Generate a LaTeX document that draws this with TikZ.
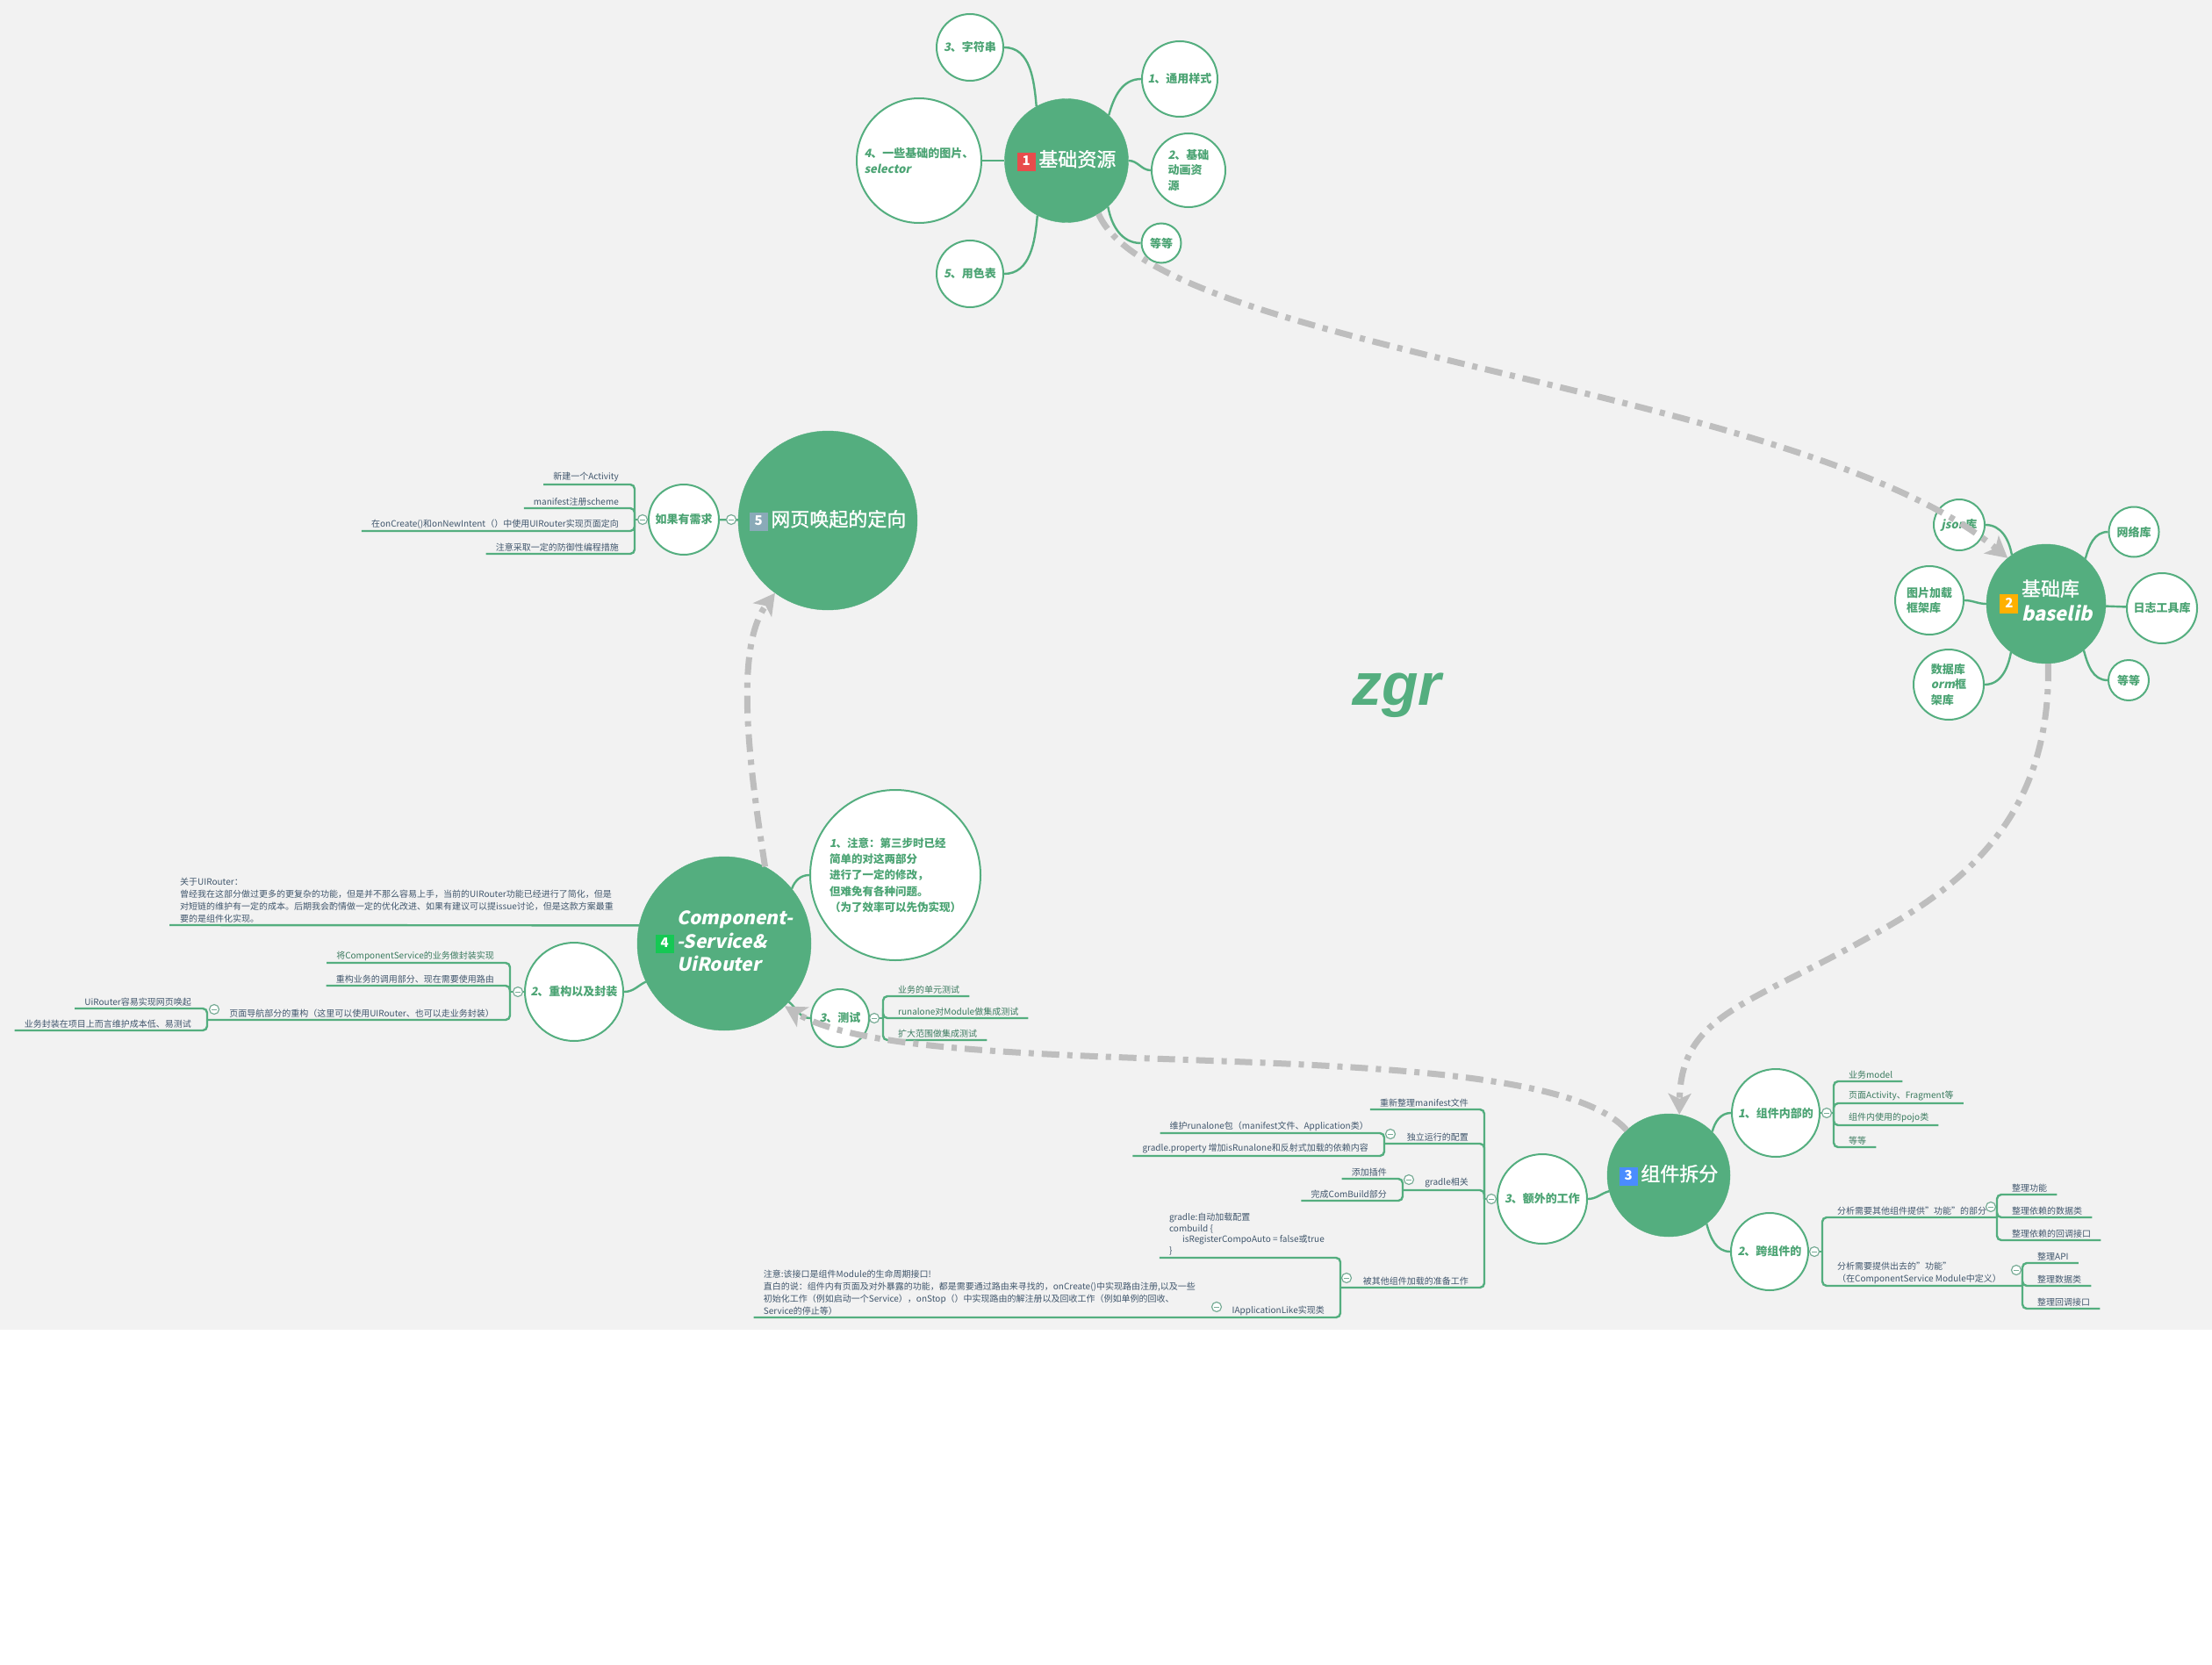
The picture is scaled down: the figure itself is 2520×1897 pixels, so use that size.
\documentclass[tikz,border=0pt]{standalone}
\usepackage{fontspec}
\setmainfont{Noto Sans CJK SC}
\newfontfamily\slantfont{Noto Sans CJK SC}[FakeSlant=0.2]
\newfontfamily\titlefont{Noto Sans CJK SC}[FakeBold=1.2]
\newfontfamily\zgrfont{Liberation Sans}
\usetikzlibrary{arrows.meta}
\definecolor{mmgreen}{RGB}{84,174,127}
\definecolor{subgreen}{RGB}{76,164,116}
\definecolor{slate}{RGB}{64,86,108}
\definecolor{leafgreen}{RGB}{58,122,94}
\definecolor{bggray}{RGB}{242,242,242}
\definecolor{relgray}{RGB}{190,190,190}
\definecolor{foldcol}{RGB}{120,172,150}
\definecolor{tagred}{RGB}{232,76,76}
\definecolor{tagorange}{RGB}{255,176,0}
\definecolor{tagblue}{RGB}{74,140,255}
\definecolor{taggreen}{RGB}{22,200,84}
\definecolor{taggray}{RGB}{138,170,184}
\newcommand{\leaffont}{\fontsize{10}{14}\selectfont}
\newcommand{\subfont}{\fontsize{13}{17.5}\selectfont\bfseries}
\newcommand{\topicfont}{\titlefont\fontsize{22}{27}\selectfont}
\newcommand{\numtag}[2]{$\vcenter{\hbox{\setlength{\fboxsep}{4pt}\colorbox{#1}{\makebox[13pt]{\normalfont\fontsize{15}{15}\selectfont\bfseries\color{white}\rule[-2pt]{0pt}{13pt}#2}}}}$}

\begin{document}
\begin{tikzpicture}[x=1pt, y=-1pt,
  topic/.style={circle, fill=mmgreen, draw=mmgreen, minimum size=#1, inner sep=0pt, text=white, font=\topicfont},
  subtopic/.style={circle, fill=white, draw=mmgreen, line width=2pt, minimum size=#1, inner sep=0pt, text=subgreen, font=\subfont, align=left},
  branchline/.style={draw=mmgreen, line width=2.4pt, rounded corners=5pt},
  lleaf/.style={anchor=south east, inner xsep=11pt, inner ysep=2.5pt, font=\leaffont, text=slate, align=left},
  rleaf/.style={anchor=south west, inner xsep=11pt, inner ysep=2.5pt, font=\leaffont, text=slate, align=left},
  foldmark/.style={circle, draw=foldcol, fill=white, line width=1.2pt, minimum size=11pt, inner sep=0pt,
    path picture={\draw[foldcol, line width=1pt] ([xshift=-2.6pt]path picture bounding box.center) -- ([xshift=2.6pt]path picture bounding box.center);}},
  relation/.style={draw=relgray, line width=7pt, dash pattern=on 20pt off 9pt on 6pt off 9pt, -{Stealth[length=24pt,width=26pt,inset=6pt]}}
]
\fill[white] (0,0) rectangle (2520,1897);
\fill[bggray] (0,0) rectangle (2520,1515);
\useasboundingbox (0,0) rectangle (2520,1897);

\node[text=mmgreen, font={\zgrfont\bfseries\itshape\fontsize{68}{68}\selectfont}] (brand) at (1591,792) {zgr};

\node[topic=141pt] (res) at (1215,183) {\numtag{tagred}{1}\,基础资源};
\node[subtopic=76pt] (str) at (1105,54) {{\slantfont 3}、字符串};
\node[subtopic=142pt] (img) at (1047,183) {{\slantfont 4}、一些基础的图片、\\{\slantfont selector}};
\node[subtopic=86pt] (style) at (1344,90) {{\slantfont 1}、通用样式};
\node[subtopic=84pt] (anim) at (1354,194) {{\slantfont 2}、基础\\动画资\\源};
\node[subtopic=45pt] (resetc) at (1323,277) {等等};
\node[subtopic=76pt] (color) at (1105,312) {{\slantfont 5}、用色表};

\node[topic=136pt] (lib) at (2331,688) {\numtag{tagorange}{2}\,\begin{tabular}[c]{@{}l@{}}基础库\\[2pt]{\slantfont\bfseries baselib}\end{tabular}};
\node[subtopic=58pt] (json) at (2232,598) {{\slantfont json}库};
\node[subtopic=57pt] (net) at (2431,606) {网络库};
\node[subtopic=80pt] (log) at (2463,693) {日志工具库};
\node[subtopic=46pt] (libetc) at (2425,775) {等等};
\node[subtopic=78pt] (pic) at (2198,684) {图片加载\\框架库};
\node[subtopic=80pt] (db) at (2220,780) {数据库\\{\slantfont orm}框\\架库};

\node[topic=140pt] (split) at (1901,1339) {\numtag{tagblue}{3}\,组件拆分};
\node[subtopic=100pt] (inner) at (2023,1268) {{\slantfont 1}、组件内部的};
\node[subtopic=88pt] (cross) at (2016,1426) {{\slantfont 2}、跨组件的};
\node[subtopic=102pt] (extra) at (1757,1366) {{\slantfont 3}、额外的工作};

\node[topic=198pt, font={\slantfont\fontsize{21}{26.5}\selectfont\bfseries}] (comp) at (825,1075)
  {\numtag{taggreen}{4}\,\begin{tabular}[c]{@{}l@{}}Component-\\-Service\&\\UiRouter\end{tabular}};
\node[subtopic=194pt, font={\fontsize{12.5}{18.3}\selectfont\bfseries}] (note1) at (1020,997)
  {{\slantfont 1}、注意：第三步时已经\\简单的对这两部分\\进行了一定的修改，\\但难免有各种问题。\\（为了效率可以先伪实现）};
\node[subtopic=112pt] (refac) at (654,1130) {{\slantfont 2}、重构以及封装};
\node[subtopic=66pt] (test) at (957,1160) {{\slantfont 3}、测试};

\node[topic=204pt] (web) at (943,593) {\numtag{taggray}{5}\,网页唤起的定向};
\node[subtopic=80pt] (need) at (779,592) {如果有需求};

\coordinate (needbr) at (723,592);
\coordinate (refacbr) at (581,1130);
\coordinate (navbr) at (236,1162);
\coordinate (testbr) at (1006,1160);
\coordinate (innerbr) at (2089,1268);
\coordinate (crossbr) at (2076,1426);
\coordinate (askbr) at (2275,1387);
\coordinate (offerbr) at (2304,1465);
\coordinate (extrabr) at (1691,1366);
\coordinate (alonebr) at (1577,1303);
\coordinate (gradlebr) at (1598,1356);
\coordinate (loadbr) at (1527,1467);

\node[lleaf] (newact) at (716,552) {新建一个Activity};
\node[lleaf] (scheme) at (716,579) {manifest注册scheme};
\node[lleaf] (redirect) at (716,605) {在onCreate()和onNewIntent（）中使用UIRouter实现页面定向};
\node[lleaf] (defend) at (716,631) {注意采取一定的防御性编程措施};

\node[rleaf, inner xsep=12pt] (uinote) at (193,1054) {关于UIRouter：\\曾经我在这部分做过更多的更复杂的功能，但是并不那么容易上手，当前的UIRouter功能已经进行了简化，但是\\对短链的维护有一定的成本。后期我会酌情做一定的优化改进、如果有建议可以提issue讨论，但是这款方案最重\\要的是组件化实现。};

\node[lleaf, text=leafgreen] (wrap) at (574,1097) {将ComponentService的业务做封装实现};
\node[lleaf] (callpart) at (574,1123) {重构业务的调用部分、现在需要使用路由};
\node[lleaf] (nav) at (574,1162) {页面导航部分的重构（这里可以使用UIRouter、也可以走业务封装）};
\node[lleaf] (easyweb) at (229,1149) {UiRouter容易实现网页唤起};
\node[lleaf] (lowcost) at (229,1174) {业务封装在项目上而言维护成本低、易测试};

\node[rleaf, text=leafgreen] (unit) at (1012,1135) {业务的单元测试};
\node[rleaf, text=leafgreen] (modtest) at (1012,1160) {runalone对Module做集成测试};
\node[rleaf, text=leafgreen] (widetest) at (1012,1185) {扩大范围做集成测试};

\node[rleaf, text=leafgreen] (model) at (2095,1232) {业务model};
\node[rleaf, text=leafgreen] (pages) at (2095,1257) {页面Activity、Fragment等};
\node[rleaf, text=leafgreen] (pojo) at (2095,1282) {组件内使用的pojo类};
\node[rleaf, text=leafgreen] (inetc) at (2095,1307) {等等};

\node[rleaf] (ask) at (2082,1387) {分析需要其他组件提供"功能"的部分};
\node[rleaf] (askfun) at (2281,1361) {整理功能};
\node[rleaf] (askdata) at (2281,1387) {整理依赖的数据类};
\node[rleaf] (askcb) at (2281,1413) {整理依赖的回调接口};
\node[rleaf] (offer) at (2082,1465) {分析需要提供出去的"功能"\\（在ComponentService Module中定义）};
\node[rleaf] (offerapi) at (2310,1439) {整理API};
\node[rleaf] (offerdata) at (2310,1465) {整理数据类};
\node[rleaf] (offercb) at (2310,1491) {整理回调接口};

\node[lleaf] (manifest) at (1684,1264) {重新整理manifest文件};
\node[lleaf] (alone) at (1684,1303) {独立运行的配置};
\node[lleaf] (alonepkg) at (1570,1291) {维护runalone包（manifest文件、Application类）};
\node[lleaf] (aloneprop) at (1570,1317) {gradle.property 增加isRunalone和反射式加载的依赖内容};
\node[lleaf] (gradle) at (1684,1356) {gradle相关};
\node[lleaf] (plugin) at (1591,1343) {添加插件};
\node[lleaf] (combuild) at (1591,1368) {完成ComBuild部分};
\node[lleaf] (load) at (1684,1467) {被其他组件加载的准备工作};
\node[lleaf, font={\fontsize{10}{12.7}\selectfont}] (autocfg) at (1520,1433) {gradle:自动加载配置\\combuild \{\\\hspace*{15pt}isRegisterCompoAuto = false或true\\\}};
\node[lleaf] (applike) at (1520,1501) {IApplicationLike实现类};
\node[lleaf] (lifenote) at (1373,1501) {注意:该接口是组件Module的生命周期接口!\\直白的说：组件内有页面及对外暴露的功能，都是需要通过路由来寻找的，onCreate()中实现路由注册,以及一些\\初始化工作（例如启动一个Service），onStop（）中实现路由的解注册以及回收工作（例如单例的回收、\\Service的停止等）};

\draw[branchline] (str.east) to[out=0, in=95] (res.119);
\draw[branchline] (img) -- (res);
\draw[branchline] (res.47) to[out=75, in=180] (style.west);
\draw[branchline] (res.east) to[out=0, in=180] (anim.west);
\draw[branchline] (res.-48) to[out=-80, in=180] (resetc.west);
\draw[branchline] (res.-118) to[out=-95, in=0] (color.east);

\draw[branchline] (json.east) to[out=0, in=100] (lib.125);
\draw[branchline] (lib.49) to[out=75, in=180] (net.west);
\draw[branchline] (lib) -- (log);
\draw[branchline] (pic.east) to[out=0, in=180] (lib.west);
\draw[branchline] (lib.-51) to[out=-75, in=180] (libetc.west);
\draw[branchline] (db.east) to[out=0, in=-100] (lib.-126);

\draw[branchline] (split.45) to[out=75, in=180] (inner.west);
\draw[branchline] (split.-52) to[out=-75, in=180] (cross.west);
\draw[branchline] (split.195) to[out=195, in=0] (extra.east);

\draw[branchline] (comp.39) to[out=70, in=180] (note1.west);
\draw[branchline] (comp.206) to[out=206, in=0] (refac.east);
\draw[branchline] (comp.-42) to[out=-40, in=180] (test.west);
\draw[branchline] (uinote.south west) -- (comp.168);

\draw[branchline] (need) -- (web);
\draw[branchline] (needbr) -- (need);
\foreach \leaf in {newact,scheme,redirect,defend}
  \draw[branchline] (needbr) |- (\leaf.south west);

\draw[branchline] (refacbr) -- (refac);
\foreach \leaf in {wrap,callpart}
  \draw[branchline] (refacbr) |- (\leaf.south west);
\draw[branchline] (refacbr) |- (navbr);
\foreach \leaf in {easyweb,lowcost}
  \draw[branchline] (navbr) |- (\leaf.south west);

\draw[branchline] (test) -- (testbr);
\foreach \leaf in {unit,modtest,widetest}
  \draw[branchline] (testbr) |- (\leaf.south east);

\draw[branchline] (inner) -- (innerbr);
\foreach \leaf in {model,pages,pojo,inetc}
  \draw[branchline] (innerbr) |- (\leaf.south east);

\draw[branchline] (cross) -- (crossbr);
\draw[branchline] (crossbr) |- (askbr);
\draw[branchline] (crossbr) |- (offerbr);
\foreach \leaf in {askfun,askdata,askcb}
  \draw[branchline] (askbr) |- (\leaf.south east);
\foreach \leaf in {offerapi,offerdata,offercb}
  \draw[branchline] (offerbr) |- (\leaf.south east);

\draw[branchline] (extrabr) -- (extra);
\draw[branchline] (extrabr) |- (manifest.south west);
\draw[branchline] (extrabr) |- (alonebr);
\draw[branchline] (extrabr) |- (gradlebr);
\draw[branchline] (extrabr) |- (loadbr);
\foreach \leaf in {alonepkg,aloneprop}
  \draw[branchline] (alonebr) |- (\leaf.south west);
\foreach \leaf in {plugin,combuild}
  \draw[branchline] (gradlebr) |- (\leaf.south west);
\draw[branchline] (loadbr) |- (autocfg.south west);
\draw[branchline] (loadbr) |- (lifenote.south west);

\node[foldmark] (webfold) at (833,592) {};
\node[foldmark] (needfold) at (732,592) {};
\node[foldmark] (refacfold) at (590,1130) {};
\node[foldmark] (navfold) at (244,1150) {};
\node[foldmark] (testfold) at (996,1160) {};
\node[foldmark] (innerfold) at (2081,1268) {};
\node[foldmark] (crossfold) at (2067,1426) {};
\node[foldmark] (askfold) at (2268,1375) {};
\node[foldmark] (offerfold) at (2297,1447) {};
\node[foldmark] (extrafold) at (1699,1366) {};
\node[foldmark] (alonefold) at (1584,1292) {};
\node[foldmark] (gradlefold) at (1605,1344) {};
\node[foldmark] (loadfold) at (1534,1456) {};
\node[foldmark] (likefold) at (1386,1489) {};

\draw[relation] (res.-59) .. controls (1320,400) and (2050,440) .. (lib.130);
\draw[relation] (lib.-88) .. controls (2336,900) and (2270,985) .. (2160,1050) .. controls (2000,1145) and (1915,1150) .. (split.80);
\draw[relation] (split.133) .. controls (1750,1170) and (1050,1240) .. (comp.-46);
\draw[relation] (comp.62) .. controls (855,880) and (835,740) .. (web.-126);
\end{tikzpicture}
\end{document}
